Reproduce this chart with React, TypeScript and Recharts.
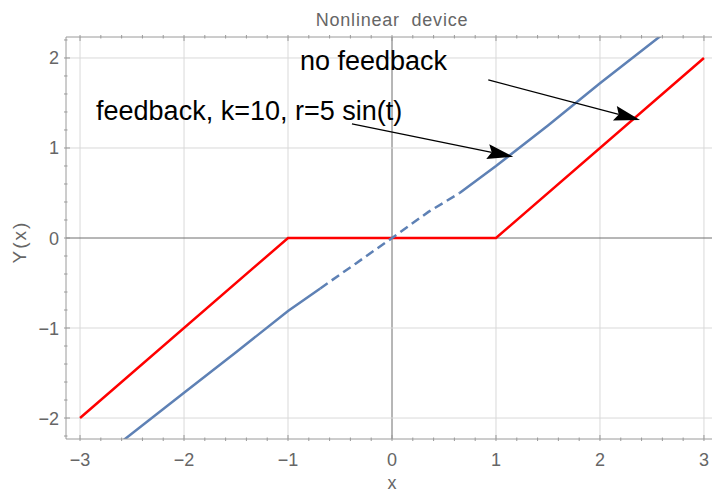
import { LineChart, Line, XAxis, YAxis, ReferenceLine, ReferenceDot } from "recharts";

// dead-zone device, no feedback
const redPoints = [
  { x: -3, y: -2 },
  { x: -1, y: 0 },
  { x: 1, y: 0 },
  { x: 3, y: 2 },
];

// with feedback (solid / dashed / solid pieces)
const bluePointsLow = [
  { x: -2.62, y: -2.28 },
  { x: -2.0, y: -1.72 },
  { x: -1.5, y: -1.27 },
  { x: -1.0, y: -0.81 },
  { x: -0.69, y: -0.56 },
];
const bluePointsMid = [
  { x: -0.69, y: -0.56 },
  { x: -0.35, y: -0.285 },
  { x: 0, y: 0 },
  { x: 0.35, y: 0.29 },
  { x: 0.65, y: 0.5 },
];
const bluePointsHigh = [
  { x: 0.65, y: 0.5 },
  { x: 1.0, y: 0.8 },
  { x: 1.5, y: 1.25 },
  { x: 2.0, y: 1.72 },
  { x: 2.6, y: 2.26 },
];

const xMajor = [-3, -2, -1, 0, 1, 2, 3];
const yMajor = [-2, -1, 0, 1, 2];
const xMinor = Array.from({ length: 31 }, (_, i) => Math.round((-3 + i * 0.2) * 10) / 10);
const yMinor = Array.from({ length: 23 }, (_, i) => Math.round((-2.2 + i * 0.2) * 10) / 10);

const annotations = [
  { text: "no feedback", x: -0.885, y: 1.867 },
  { text: "feedback, k=10, r=5 sin(t)", x: -2.846, y: 1.311 },
];
const arrows = [
  { from: { x: 0.926, y: 1.756 }, to: { x: 2.385, y: 1.311 } },
  { from: { x: -0.385, y: 1.267 }, to: { x: 1.166, y: 0.903 } },
];

const BLUE = "#5E81B5";
const RED = "#FF0000";
const FRAME = "#9a9a9a";
const LABEL = "#666666";
const FONT = "'Liberation Sans', Arial, sans-serif";

const isMajor = (v: number) => Math.abs(v - Math.round(v)) < 1e-6;
const fmt = (v: number) => (v < 0 ? "\u2212" + Math.abs(v) : String(v));

const BottomTick = (props: any) => {
  const { x, y, payload } = props;
  const major = isMajor(payload.value);
  return (
    <g>
      <line x1={x} y1={y} x2={x} y2={y - (major ? 6 : 3.5)} stroke={FRAME} />
      {major && (
        <text x={x} y={y + 25} textAnchor="middle" fontSize={18} fill={LABEL} fontFamily={FONT}>
          {fmt(Math.round(payload.value))}
        </text>
      )}
    </g>
  );
};

const TopTick = (props: any) => {
  const { x, y, payload } = props;
  const major = isMajor(payload.value);
  return <line x1={x} y1={y} x2={x} y2={y + (major ? 6 : 3.5)} stroke={FRAME} />;
};

const LeftTick = (props: any) => {
  const { x, y, payload } = props;
  const major = isMajor(payload.value);
  return (
    <g>
      <line x1={x} y1={y} x2={x + (major ? 6 : 3.5)} y2={y} stroke={FRAME} />
      {major && (
        <text x={x - 5} y={y + 6.5} textAnchor="end" fontSize={18} fill={LABEL} fontFamily={FONT}>
          {fmt(Math.round(payload.value))}
        </text>
      )}
    </g>
  );
};

const Arrow = (props: any) => {
  const { x1, y1, x2, y2 } = props;
  const dx = x2 - x1;
  const dy = y2 - y1;
  const len = Math.sqrt(dx * dx + dy * dy);
  const ux = dx / len;
  const uy = dy / len;
  const L = 26;
  const W = 7.5;
  const bx = x2 - ux * L;
  const by = y2 - uy * L;
  const nx = x2 - ux * (L - 4);
  const ny = y2 - uy * (L - 4);
  const pts = [
    [x2, y2],
    [bx - uy * W, by + ux * W],
    [nx, ny],
    [bx + uy * W, by - ux * W],
  ]
    .map((p) => p.join(","))
    .join(" ");
  return (
    <g>
      <line x1={x1} y1={y1} x2={nx} y2={ny} stroke="#000" strokeWidth={1.2} />
      <polygon points={pts} fill="#000" />
    </g>
  );
};

export default function App() {
  return (
    <div style={{ position: "absolute", left: 0, top: 0, width: 712, height: 493, overflow: "hidden", background: "#fff" }}>
      <LineChart width={740} height={493} margin={{ top: 36, right: 22, bottom: 0, left: 0 }} style={{ fontFamily: FONT }}>
        <XAxis
          type="number"
          dataKey="x"
          domain={[-3.135, 3.135]}
          allowDataOverflow
          ticks={xMinor}
          interval={0}
          tickSize={0}
          tickLine={false}
          tick={<BottomTick />}
          axisLine={{ stroke: FRAME }}
          height={54}
          label={(p: any) => {
            const vb = p.viewBox;
            return (
              <text x={vb.x + vb.width / 2} y={489} textAnchor="middle" fontSize={18} fill={LABEL} fontFamily={FONT}>
                x
              </text>
            );
          }}
        />
        <XAxis
          xAxisId="top"
          orientation="top"
          type="number"
          dataKey="x"
          domain={[-3.135, 3.135]}
          allowDataOverflow
          ticks={xMinor}
          interval={0}
          tickSize={0}
          tickLine={false}
          tick={<TopTick />}
          axisLine={{ stroke: FRAME }}
          height={1}
          label={(p: any) => {
            const vb = p.viewBox;
            return (
              <text
                x={vb.x + vb.width / 2}
                y={26}
                textAnchor="middle"
                fontSize={18}
                fill={LABEL}
                fontFamily={FONT}
                letterSpacing={0.8}
                style={{ whiteSpace: "pre" }}
              >
                {"Nonlinear  device"}
              </text>
            );
          }}
        />
        <YAxis
          type="number"
          dataKey="y"
          domain={[-2.233, 2.233]}
          allowDataOverflow
          ticks={yMinor}
          interval={0}
          tickSize={0}
          tickLine={false}
          tick={<LeftTick />}
          axisLine={{ stroke: FRAME }}
          width={66}
          label={(p: any) => {
            const vb = p.viewBox;
            const cx = 19;
            const cy = vb.y + vb.height / 2 + 4;
            return (
              <text
                x={cx}
                y={cy}
                textAnchor="middle"
                dominantBaseline="central"
                transform={`rotate(-90, ${cx}, ${cy})`}
                fontSize={19}
                fill={LABEL}
                fontFamily={FONT}
                letterSpacing={2}
              >
                Y(x)
              </text>
            );
          }}
        />

        {xMajor.map((v) => (
          <ReferenceLine key={"gx" + v} x={v} stroke={v === 0 ? "#6e6e6e" : "#d9d9d9"} strokeWidth={1} zIndex={-50} />
        ))}
        {yMajor.map((v) => (
          <ReferenceLine key={"gy" + v} y={v} stroke={v === 0 ? "#6e6e6e" : "#d9d9d9"} strokeWidth={1} zIndex={-50} />
        ))}

        <Line data={redPoints} dataKey="y" stroke={RED} strokeWidth={2.5} dot={false} isAnimationActive={false} />
        <Line data={bluePointsLow} dataKey="y" stroke={BLUE} strokeWidth={2.5} dot={false} isAnimationActive={false} />
        <Line
          data={bluePointsMid}
          dataKey="y"
          stroke={BLUE}
          strokeWidth={2.5}
          strokeDasharray="9 5"
          dot={false}
          isAnimationActive={false}
        />
        <Line data={bluePointsHigh} dataKey="y" stroke={BLUE} strokeWidth={2.5} dot={false} isAnimationActive={false} />

        {arrows.map((a, i) => (
          <ReferenceLine key={"ar" + i} segment={[a.from, a.to]} shape={(p: any) => <Arrow {...p} />} />
        ))}
        {annotations.map((a, i) => (
          <ReferenceDot
            key={"an" + i}
            x={a.x}
            y={a.y}
            r={0}
            fill="none"
            stroke="none"
            label={(p: any) => {
              const vb = p.viewBox;
              return (
                <text x={vb.x} y={vb.y} fontSize={27} fill="#000" fontFamily={FONT}>
                  {a.text}
                </text>
              );
            }}
          />
        ))}
      </LineChart>
    </div>
  );
}
